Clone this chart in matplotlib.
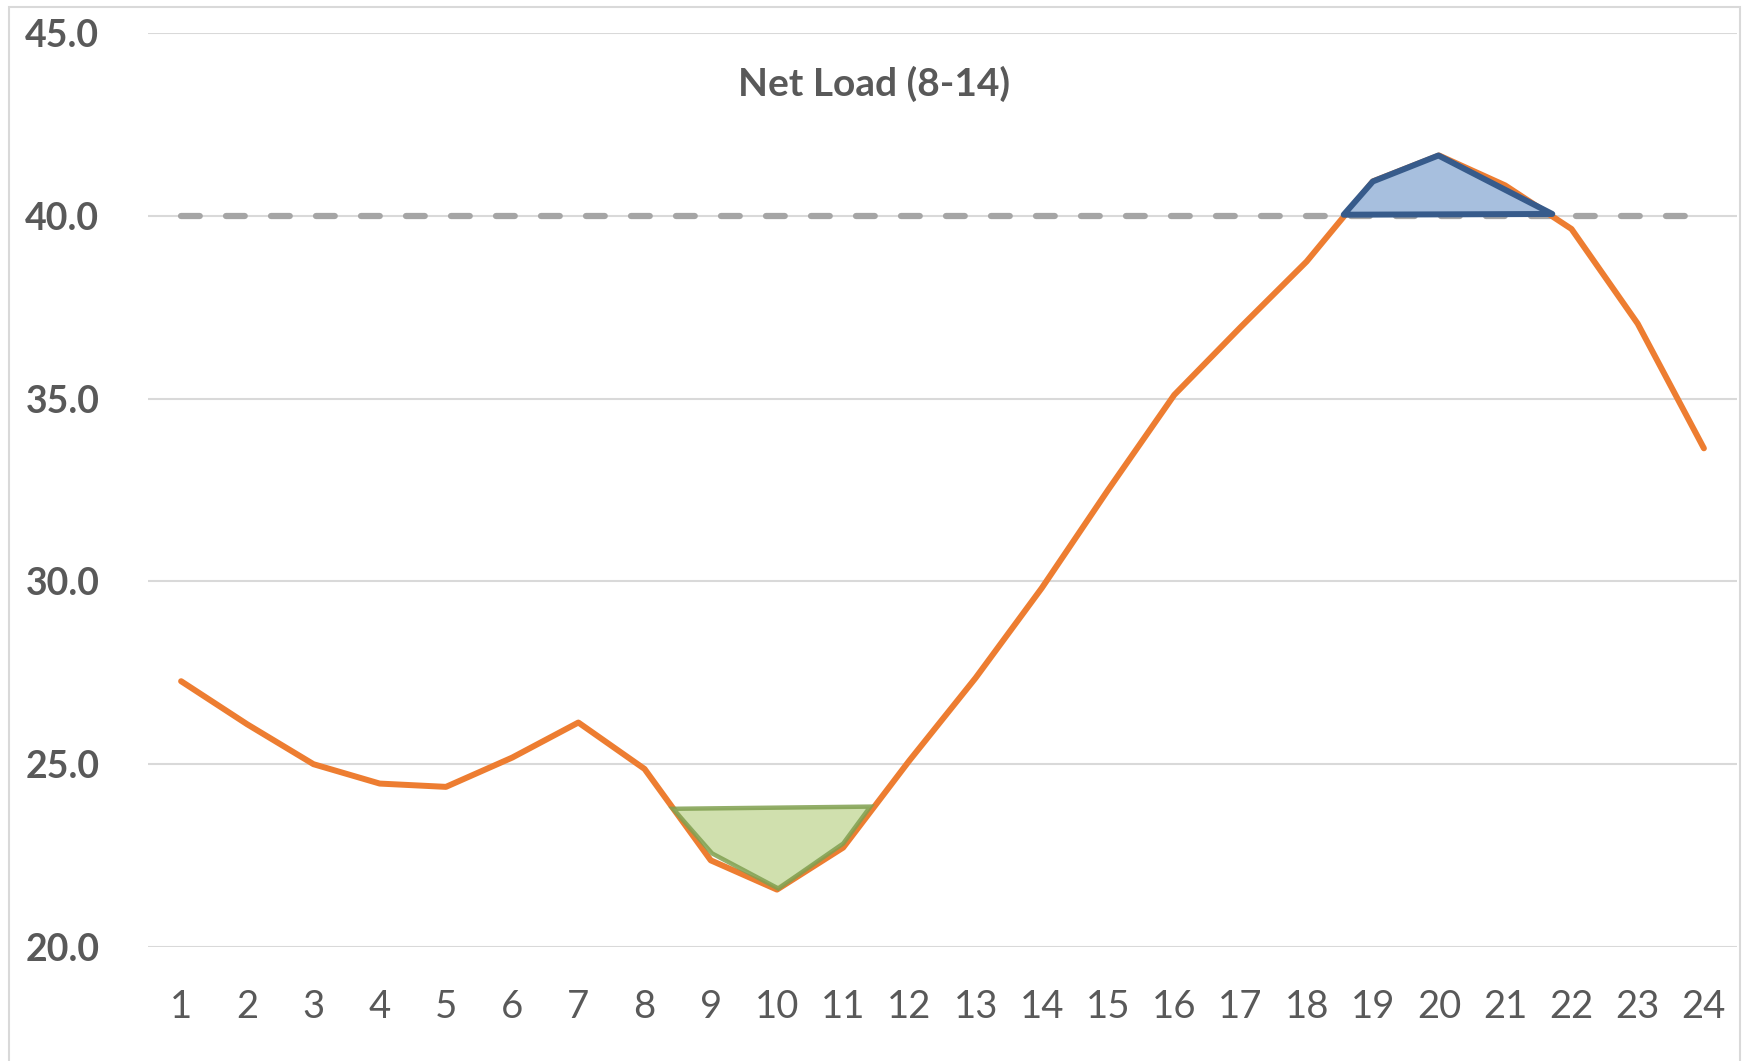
import matplotlib.pyplot as plt
from matplotlib.patches import Polygon, Rectangle
from matplotlib.ticker import FormatStrFormatter

# hourly net load
hours = list(range(1, 25))
net_load = [27.27, 26.09, 25.0, 24.47, 24.38, 25.18, 26.14, 24.87,
            22.37, 21.57, 22.72, 25.1, 27.36, 29.82, 32.5, 35.1,
            36.95, 38.75, 40.94, 41.65, 40.83, 39.64, 37.05, 33.64]
threshold = [40.0] * len(hours)

# shaded valley (charge) and peak (discharge) shapes
valley_x = [8.43, 9.02, 10.02, 11.0, 11.41]
valley_y = [23.78, 22.56, 21.6, 22.83, 23.84]
peak_x = [18.56, 19.0, 19.99, 21.71]
peak_y = [40.03, 40.94, 41.65, 40.05]

yticks = [20, 25, 30, 35, 40, 45]

plt.rcParams['font.family'] = ['Lato', 'DejaVu Sans']
text_grey = '#595959'

W, H = 1747, 1061
fig = plt.figure(figsize=(W / 100, H / 100), dpi=100)
ax = fig.add_axes([148 / W, 1 - 947 / H, (1737 - 148) / W, (947 - 33) / H])

ax.set_xlim(0.5, 24.5)
ax.set_ylim(20, 45)
ax.set_yticks(yticks)
ax.set_xticks(hours)
ax.yaxis.set_major_formatter(FormatStrFormatter('%.1f'))
ax.grid(axis='y', color='#D9D9D9', lw=1.5, zorder=0)
ax.set_axisbelow(True)
for s in ax.spines.values():
    s.set_visible(False)
ax.tick_params(length=0)
ax.tick_params(axis='x', pad=30, labelsize=27.5, labelcolor=text_grey)
ax.tick_params(axis='y', pad=35, labelsize=27, labelcolor=text_grey)
for lab in ax.get_yticklabels():
    lab.set_fontweight('bold')

ax.plot(hours, threshold, color='#A5A5A5', lw=4.5, dashes=(3, 4.2),
        dash_capstyle='round', zorder=2)
ax.plot(hours, net_load, color='#ED7D31', lw=4.3, solid_capstyle='round',
        solid_joinstyle='round', zorder=3)

ax.add_patch(Polygon(list(zip(valley_x, valley_y)), closed=True,
                     facecolor='#C8DBA0', edgecolor='#80A050', lw=3.2,
                     alpha=0.85, zorder=4))
ax.add_patch(Polygon(list(zip(peak_x, peak_y)), closed=True,
                     facecolor='#A7BFDE', edgecolor='#375B8B', lw=4.3,
                     joinstyle='round', zorder=5))

fig.text(874 / W, 1 - 84 / H, 'Net Load (8-14)', ha='center', va='center',
         fontsize=28, fontweight='bold', color=text_grey)

# chart frame
fig.add_artist(Rectangle((9 / W, -0.05), (1740 - 9) / W, 1.05 - 7 / H,
                         transform=fig.transFigure, fill=False,
                         edgecolor='#D9D9D9', lw=1.5))

fig.savefig('out.png', dpi=100)
